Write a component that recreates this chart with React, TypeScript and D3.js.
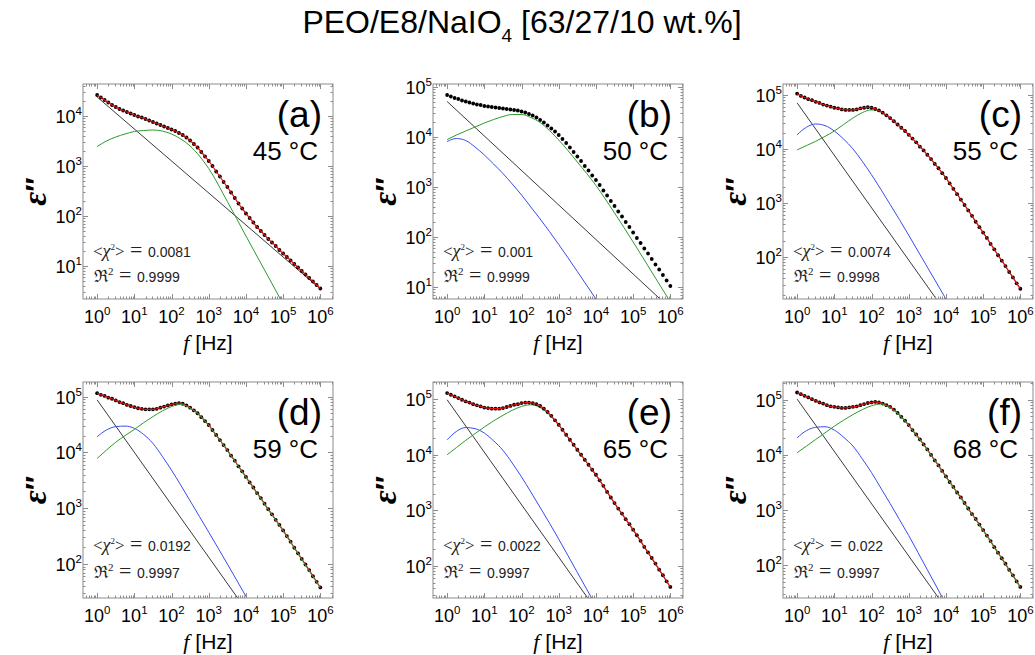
import React from "react";
import * as d3 from "d3";

// log10(f / Hz) of the measured points, ten per decade from 1 Hz to 1 MHz
const LOG_F = [
  0.0, 0.1, 0.2, 0.3, 0.4, 0.5, 0.6, 0.7, 0.8, 0.9,
  1.0, 1.1, 1.2, 1.3, 1.4, 1.5, 1.6, 1.7, 1.8, 1.9,
  2.0, 2.1, 2.2, 2.3, 2.4, 2.5, 2.6, 2.7, 2.8, 2.9,
  3.0, 3.1, 3.2, 3.3, 3.4, 3.5, 3.6, 3.7, 3.8, 3.9,
  4.0, 4.1, 4.2, 4.3, 4.4, 4.5, 4.6, 4.7, 4.8, 4.9,
  5.0, 5.1, 5.2, 5.3, 5.4, 5.5, 5.6, 5.7, 5.8, 5.9,
  6.0,
];

// log10(ε'') measured at each LOG_F point
const EPS_45 = [
  4.42, 4.37, 4.32, 4.27, 4.22, 4.18, 4.14, 4.11, 4.08, 4.05,
  4.02, 3.99, 3.97, 3.94, 3.91, 3.88, 3.85, 3.82, 3.79, 3.76,
  3.73, 3.70, 3.66, 3.62, 3.57, 3.51, 3.44, 3.37, 3.28, 3.19,
  3.10, 3.00, 2.89, 2.79, 2.68, 2.58, 2.47, 2.36, 2.25, 2.15,
  2.05, 1.96, 1.87, 1.78, 1.70, 1.62, 1.54, 1.47, 1.40, 1.32,
  1.25, 1.18, 1.11, 1.04, 0.97, 0.90, 0.83, 0.76, 0.69, 0.62,
  0.55,
];
const EPS_50 = [
  4.84, 4.81, 4.78, 4.76, 4.73, 4.71, 4.69, 4.67, 4.65, 4.64,
  4.62, 4.61, 4.60, 4.59, 4.58, 4.57, 4.56, 4.55, 4.54, 4.53,
  4.51, 4.49, 4.46, 4.43, 4.39, 4.34, 4.29, 4.23, 4.17, 4.11,
  4.04, 3.96, 3.88, 3.79, 3.70, 3.61, 3.52, 3.42, 3.33, 3.23,
  3.14, 3.04, 2.93, 2.83, 2.72, 2.62, 2.51, 2.41, 2.30, 2.20,
  2.09, 1.98, 1.88, 1.77, 1.67, 1.56, 1.45, 1.35, 1.24, 1.13,
  1.02,
];
const EPS_55 = [
  5.02, 4.98, 4.95, 4.92, 4.90, 4.87, 4.85, 4.82, 4.80, 4.78,
  4.76, 4.75, 4.73, 4.72, 4.72, 4.72, 4.73, 4.75, 4.76, 4.77,
  4.76, 4.74, 4.71, 4.67, 4.62, 4.57, 4.51, 4.45, 4.39, 4.33,
  4.26, 4.19, 4.12, 4.04, 3.97, 3.89, 3.81, 3.72, 3.64, 3.55,
  3.46, 3.36, 3.26, 3.16, 3.06, 2.96, 2.86, 2.76, 2.65, 2.55,
  2.45, 2.35, 2.24, 2.14, 2.03, 1.93, 1.83, 1.72, 1.62, 1.51,
  1.41,
];
const EPS_59 = [
  5.06, 5.03, 5.01, 4.98, 4.96, 4.93, 4.90, 4.88, 4.85, 4.83,
  4.81, 4.79, 4.78, 4.77, 4.77, 4.77, 4.78, 4.80, 4.82, 4.84,
  4.86, 4.87, 4.88, 4.87, 4.84, 4.80, 4.75, 4.70, 4.63, 4.56,
  4.49, 4.40, 4.31, 4.22, 4.13, 4.04, 3.94, 3.85, 3.75, 3.66,
  3.56, 3.46, 3.37, 3.27, 3.18, 3.08, 2.98, 2.89, 2.79, 2.70,
  2.60, 2.50, 2.40, 2.29, 2.19, 2.09, 1.99, 1.89, 1.78, 1.68,
  1.58,
];
const EPS_65 = [
  5.11, 5.08, 5.05, 5.02, 4.99, 4.96, 4.94, 4.91, 4.89, 4.87,
  4.85, 4.84, 4.83, 4.83, 4.83, 4.84, 4.86, 4.88, 4.90, 4.91,
  4.93, 4.94, 4.94, 4.93, 4.91, 4.88, 4.83, 4.77, 4.70, 4.62,
  4.54, 4.45, 4.36, 4.27, 4.18, 4.09, 4.00, 3.91, 3.82, 3.73,
  3.64, 3.54, 3.44, 3.33, 3.23, 3.13, 3.03, 2.94, 2.84, 2.75,
  2.65, 2.55, 2.45, 2.34, 2.24, 2.14, 2.04, 1.93, 1.83, 1.72,
  1.62,
];
const EPS_68 = [
  5.13, 5.10, 5.07, 5.04, 5.01, 4.98, 4.95, 4.93, 4.90, 4.88,
  4.87, 4.86, 4.85, 4.85, 4.86, 4.87, 4.88, 4.90, 4.92, 4.94,
  4.95, 4.96, 4.95, 4.93, 4.90, 4.87, 4.82, 4.76, 4.69, 4.62,
  4.54, 4.45, 4.37, 4.28, 4.19, 4.10, 4.00, 3.90, 3.81, 3.71,
  3.61, 3.51, 3.42, 3.32, 3.23, 3.13, 3.03, 2.93, 2.84, 2.74,
  2.64, 2.54, 2.44, 2.33, 2.23, 2.13, 2.03, 1.92, 1.82, 1.71,
  1.61,
];

// log10(f) grid on which the relaxation components are tabulated
const COMP_LOG_F = [0, 0.25, 0.5, 0.75, 1, 1.25, 1.5, 1.75, 2, 2.25, 2.5, 2.75, 3, 3.5, 4, 4.5, 5, 5.5, 6];

// main (segmental) relaxation, log10(ε'')
const MAIN_45 = [3.39, 3.50, 3.58, 3.64, 3.69, 3.71, 3.72, 3.70, 3.64, 3.54, 3.40, 3.20, 2.95, 2.29, 1.60, 0.92, 0.24, -0.45, -1.13];
const MAIN_50 = [3.95, 4.04, 4.12, 4.20, 4.28, 4.35, 4.41, 4.45, 4.45, 4.39, 4.29, 4.13, 3.94, 3.50, 3.03, 2.48, 1.90, 1.30, 0.70];
const MAIN_55 = [3.98, 4.06, 4.14, 4.23, 4.33, 4.45, 4.57, 4.67, 4.72, 4.68, 4.56, 4.42, 4.26, 3.89, 3.46, 2.96, 2.45, 1.93, 1.41];
const MAIN_59 = [3.89, 4.04, 4.18, 4.30, 4.41, 4.53, 4.64, 4.74, 4.82, 4.86, 4.79, 4.67, 4.48, 4.03, 3.55, 3.07, 2.59, 2.08, 1.57];
const MAIN_65 = [4.00, 4.13, 4.26, 4.38, 4.50, 4.61, 4.71, 4.80, 4.87, 4.90, 4.85, 4.72, 4.53, 4.08, 3.63, 3.12, 2.64, 2.13, 1.61];
const MAIN_68 = [4.04, 4.16, 4.28, 4.40, 4.52, 4.63, 4.73, 4.82, 4.89, 4.92, 4.85, 4.72, 4.53, 4.09, 3.60, 3.12, 2.63, 2.12, 1.60];

// low-frequency (electrode polarisation) relaxation, log10(ε'')
const SLOW_50 = [3.91, 3.97, 3.93, 3.80, 3.64, 3.46, 3.27, 3.06, 2.84, 2.60, 2.36, 2.11, 1.85, 1.31, 0.76, 0.21, -0.34, -0.89, -1.44];
const SLOW_55 = [4.26, 4.40, 4.46, 4.43, 4.33, 4.18, 4.00, 3.77, 3.52, 3.25, 2.97, 2.69, 2.40, 1.81, 1.22, 0.63, 0.04, -0.55, -1.14];
const SLOW_59 = [4.28, 4.40, 4.46, 4.47, 4.43, 4.32, 4.16, 3.93, 3.68, 3.41, 3.13, 2.85, 2.57, 2.00, 1.42, 0.85, 0.27, -0.30, -0.88];
const SLOW_65 = [4.27, 4.42, 4.49, 4.47, 4.39, 4.25, 4.08, 3.85, 3.60, 3.33, 3.05, 2.77, 2.48, 1.88, 1.28, 0.68, 0.08, -0.52, -1.12];
const SLOW_68 = [4.31, 4.44, 4.50, 4.51, 4.45, 4.32, 4.16, 3.93, 3.68, 3.40, 3.12, 2.83, 2.54, 1.92, 1.30, 0.68, 0.06, -0.56, -1.18];

// dc-conductivity power law, log10(ε'') at 1 Hz and 1 MHz
const COND_LOG_F = [0, 6];
const COND_45 = [4.38, 0.54];
const COND_50 = [4.71, 0.57];
const COND_55 = [4.85, -0.97];
const COND_59 = [4.94, -0.70];
const COND_65 = [4.99, -0.68];
const COND_68 = [5.01, -0.67];

const PANEL_TAGS = ["(a)", "(b)", "(c)", "(d)", "(e)", "(f)"];
const TEMPERATURES = ["45 °C", "50 °C", "55 °C", "59 °C", "65 °C", "68 °C"];
const CHI2 = ["0.0081", "0.001", "0.0074", "0.0192", "0.0022", "0.022"];
const R2 = ["0.9999", "0.9999", "0.9998", "0.9997", "0.9997", "0.9997"];
// visible ε'' range of each panel, log10
const Y_RANGE: [number, number][] = [
  [0.34, 4.64],
  [0.76, 5.06],
  [1.22, 5.2],
  [1.39, 5.26],
  [1.42, 5.31],
  [1.41, 5.32],
];
const X_RANGE: [number, number] = [-0.38, 6.34];
const X_TICK_EXP = [0, 1, 2, 3, 4, 5, 6];

const EPS = [EPS_45, EPS_50, EPS_55, EPS_59, EPS_65, EPS_68];
const MAIN = [MAIN_45, MAIN_50, MAIN_55, MAIN_59, MAIN_65, MAIN_68];
const SLOW = [null, SLOW_50, SLOW_55, SLOW_59, SLOW_65, SLOW_68];
const COND = [COND_45, COND_50, COND_55, COND_59, COND_65, COND_68];

// layout
const WIDTH = 1035;
const HEIGHT = 655;
const COL_LEFT = [83, 433, 783];
const ROW_TOP = [84, 382];
const ROW_H = [215, 216];
const PW = 250;

const SANS = "'Liberation Sans', Arial, sans-serif";
const SERIF = "'Liberation Serif', 'Times New Roman', serif";

const C_DATA = "#000000";
const C_FIT = "#e01010";
const C_MAIN = "#2f9a2f";
const C_SLOW = "#3a4cf0";
const C_COND = "#3a3a3a";
const C_FRAME = "#8c8c8c";

// which panels show the total fit over the points, and which show the main
// relaxation over the fit
const FIT_SHOWN = [true, false, true, true, true, true];
const MAIN_ON_TOP = [false, true, false, true, false, true];

type Pt = [number, number];

function Panel({ idx }: { idx: number }) {
  const col = idx % 3;
  const row = Math.floor(idx / 3);
  const left = COL_LEFT[col];
  const top = ROW_TOP[row];
  const ph = ROW_H[row];
  const bottom = top + ph;
  const right = left + PW;

  const x = d3.scaleLog().domain([10 ** X_RANGE[0], 10 ** X_RANGE[1]]).range([left, right]);
  const y = d3.scaleLog().domain([10 ** Y_RANGE[idx][0], 10 ** Y_RANGE[idx][1]]).range([bottom, top]);

  const line = d3
    .line<Pt>()
    .x((d) => x(10 ** d[0]))
    .y((d) => y(10 ** d[1]))
    .curve(d3.curveMonotoneX);
  const straight = d3
    .line<Pt>()
    .x((d) => x(10 ** d[0]))
    .y((d) => y(10 ** d[1]));

  const pts: Pt[] = LOG_F.map((f, i) => [f, EPS[idx][i]]);
  const mainPts: Pt[] = COMP_LOG_F.map((f, i) => [f, MAIN[idx][i]]);
  const slow = SLOW[idx];
  const slowPts: Pt[] | null = slow ? COMP_LOG_F.map((f, i) => [f, slow[i]]) : null;
  const condPts: Pt[] = COND_LOG_F.map((f, i) => [f, COND[idx][i]]);

  // tick positions on the log axes
  const xTicks: { v: number; major: boolean }[] = [];
  for (let k = -1; k <= 7; k++) {
    for (let m = 1; m <= 9; m++) {
      const v = m * 10 ** k;
      const lv = Math.log10(v);
      if (lv >= X_RANGE[0] && lv <= X_RANGE[1]) xTicks.push({ v, major: m === 1 });
    }
  }
  const yTicks: { v: number; major: boolean; exp: number }[] = [];
  for (let k = -1; k <= 6; k++) {
    for (let m = 1; m <= 9; m++) {
      const v = m * 10 ** k;
      const lv = Math.log10(v);
      if (lv >= Y_RANGE[idx][0] && lv <= Y_RANGE[idx][1]) yTicks.push({ v, major: m === 1, exp: k });
    }
  }

  const clipId = `clip-${idx}`;
  const mainPath = (
    <path d={line(mainPts) ?? ""} fill="none" stroke={C_MAIN} strokeWidth={1} />
  );
  const chiBase = row === 0 ? bottom - 42 : bottom - 47;
  const r2Base = row === 0 ? bottom - 17 : bottom - 20;
  const yMid = top + ph / 2;

  return (
    <g>
      <defs>
        <clipPath id={clipId}>
          <rect x={left} y={top} width={PW} height={ph} />
        </clipPath>
      </defs>

      <g clipPath={`url(#${clipId})`}>
        <path d={straight(condPts) ?? ""} fill="none" stroke={C_COND} strokeWidth={1} />
        {slowPts && <path d={line(slowPts) ?? ""} fill="none" stroke={C_SLOW} strokeWidth={1} />}
        {!MAIN_ON_TOP[idx] && mainPath}
        {pts.map((d, i) => (
          <circle key={i} cx={x(10 ** d[0])} cy={y(10 ** d[1])} r={1.9} fill={C_DATA} />
        ))}
        {FIT_SHOWN[idx] && (
          <path d={line(pts) ?? ""} fill="none" stroke={C_FIT} strokeWidth={1.2} />
        )}
        {MAIN_ON_TOP[idx] && mainPath}
      </g>

      {/* frame with inward ticks on all four sides */}
      <rect x={left} y={top} width={PW} height={ph} fill="none" stroke={C_FRAME} strokeWidth={1} />
      {xTicks.map((t, i) => {
        const xx = Math.round(x(t.v)) + 0.5;
        const len = t.major ? 5 : 2.5;
        return (
          <g key={`xt${i}`} stroke={C_FRAME} strokeWidth={1}>
            <line x1={xx} x2={xx} y1={bottom} y2={bottom - len} />
            <line x1={xx} x2={xx} y1={top} y2={top + len} />
          </g>
        );
      })}
      {yTicks.map((t, i) => {
        const yy = Math.round(y(t.v)) + 0.5;
        const len = t.major ? 5 : 2.5;
        return (
          <g key={`yt${i}`} stroke={C_FRAME} strokeWidth={1}>
            <line x1={left} x2={left + len} y1={yy} y2={yy} />
            <line x1={right} x2={right - len} y1={yy} y2={yy} />
          </g>
        );
      })}

      {/* tick labels */}
      {X_TICK_EXP.map((e) => (
        <text
          key={`xl${e}`}
          x={x(10 ** e)}
          y={bottom + 24}
          textAnchor="middle"
          fontFamily={SANS}
          fontSize={18}
          fill="#000"
        >
          10
          <tspan fontSize={11.5} dy={-8}>
            {e}
          </tspan>
        </text>
      ))}
      {yTicks
        .filter((t) => t.major)
        .map((t) => (
          <text
            key={`yl${t.exp}`}
            x={left - 1}
            y={y(t.v) + 7}
            textAnchor="end"
            fontFamily={SANS}
            fontSize={18}
            fill="#000"
          >
            10
            <tspan fontSize={11.5} dy={-8}>
              {t.exp}
            </tspan>
          </text>
        ))}

      {/* axis titles */}
      <text
        x={(left + right) / 2}
        y={bottom + 51}
        textAnchor="middle"
        fontSize={21}
        fill="#000"
      >
        <tspan fontFamily={SERIF} fontStyle="italic" fontSize={22}>
          f
        </tspan>
        <tspan fontFamily={SANS}> [Hz]</tspan>
      </text>
      <text
        transform={`translate(${left - 37},${yMid}) rotate(-90)`}
        textAnchor="middle"
        fill="#000"
      >
        <tspan fontFamily={SERIF} fontStyle="italic" fontWeight="bold" fontSize={34}>
          ε
        </tspan>
        <tspan fontFamily={SANS} fontWeight="bold" fontSize={30}>
          ″
        </tspan>
      </text>

      {/* panel tag and temperature */}
      <text x={right - 11} y={top + 43} textAnchor="end" fontFamily={SANS} fontSize={37} fill="#000">
        {PANEL_TAGS[idx]}
      </text>
      <text x={right - 15} y={top + 76} textAnchor="end" fontFamily={SANS} fontSize={26} fill="#000">
        {TEMPERATURES[idx]}
      </text>

      {/* goodness of fit */}
      <text x={left + 10} y={chiBase} fill="#222">
        <tspan fontFamily={SERIF} fontSize={17}>&lt;</tspan>
        <tspan fontFamily={SERIF} fontStyle="italic" fontSize={18}>χ</tspan>
        <tspan fontFamily={SERIF} fontSize={9} dy={-7}>2</tspan>
        <tspan fontFamily={SERIF} fontSize={17} dy={7}>&gt;</tspan>
        <tspan fontFamily={SERIF} fontSize={22}> = </tspan>
        <tspan fontFamily={SANS} fontSize={14}>{CHI2[idx]}</tspan>
      </text>
      <text x={left + 11} y={r2Base} fill="#222">
        <tspan fontFamily="'DejaVu Serif', serif" fontSize={17}>ℜ</tspan>
        <tspan fontFamily={SERIF} fontSize={11} dy={-7}>2</tspan>
        <tspan fontFamily={SERIF} fontSize={22} dy={7}> = </tspan>
        <tspan fontFamily={SANS} fontSize={14}>{R2[idx]}</tspan>
      </text>
    </g>
  );
}

export default function App() {
  return (
    <svg
      width={WIDTH}
      height={HEIGHT}
      viewBox={`0 0 ${WIDTH} ${HEIGHT}`}
      style={{ position: "absolute", left: 0, top: 0, display: "block", background: "#fff" }}
    >
      <rect width={WIDTH} height={HEIGHT} fill="#fff" />
      <text x={522} y={33} textAnchor="middle" fontFamily={SANS} fontSize={32} fill="#000">
        PEO/E8/NaIO
        <tspan fontSize={19} dy={9}>4</tspan>
        <tspan dy={-9}> [63/27/10 wt.%]</tspan>
      </text>
      {[0, 1, 2, 3, 4, 5].map((i) => (
        <Panel key={i} idx={i} />
      ))}
    </svg>
  );
}
